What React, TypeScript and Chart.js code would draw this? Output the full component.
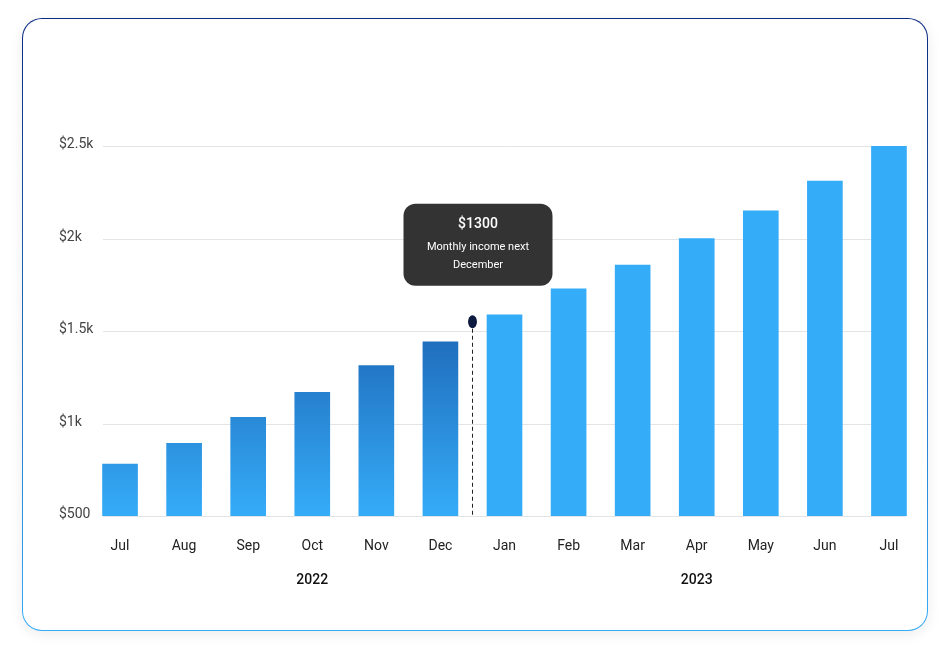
import { useEffect, useRef } from 'react';
import { Chart, registerables } from 'chart.js';

Chart.register(...registerables);

const months = ['Jul', 'Aug', 'Sep', 'Oct', 'Nov', 'Dec', 'Jan', 'Feb', 'Mar', 'Apr', 'May', 'Jun', 'Jul'];
const income = [780, 893, 1033, 1168, 1313, 1442, 1588, 1728, 1857, 2000, 2150, 2310, 2500];
const yTicks = [500, 1000, 1500, 2000, 2500];
const yTickLabels = ['$500', '$1k', '$1.5k', '$2k', '$2.5k'];
const years = [
  { label: '2022', at: 3 },
  { label: '2023', at: 9 },
];
const pastCount = 6;
const FONT = 'Roboto, "Noto Sans", sans-serif';

const overlay = {
  id: 'overlay',
  beforeDatasetsDraw(chart: any) {
    const { ctx, scales, chartArea } = chart;
    const x = scales.x;
    const y = scales.y;
    const first = x.getPixelForValue(0) - 17;
    const last = x.getPixelForValue(months.length - 1) + 17;
    ctx.save();
    ctx.strokeStyle = '#e2e4e8';
    ctx.lineWidth = 1;
    ctx.font = `14px ${FONT}`;
    ctx.fillStyle = '#444';
    ctx.textBaseline = 'middle';
    ctx.textAlign = 'left';
    yTicks.forEach((v, i) => {
      const py = Math.round(y.getPixelForValue(v)) + 0.5;
      ctx.beginPath();
      ctx.moveTo(first, py);
      ctx.lineTo(last, py);
      ctx.stroke();
      ctx.fillText(yTickLabels[i], 36, py - 2);
    });
    ctx.textAlign = 'center';
    ctx.fillStyle = '#222';
    months.forEach((m, i) => ctx.fillText(m, x.getPixelForValue(i), chartArea.bottom + 30));
    ctx.font = `500 14px ${FONT}`;
    ctx.fillStyle = '#111';
    years.forEach((yr) => ctx.fillText(yr.label, x.getPixelForValue(yr.at), chartArea.bottom + 64));
    ctx.restore();
  },
  afterDatasetsDraw(chart: any) {
    const { ctx, scales, chartArea } = chart;
    const x = scales.x;
    const y = scales.y;
    const dx = Math.round((x.getPixelForValue(pastCount - 1) + x.getPixelForValue(pastCount)) / 2) + 0.5;
    const topY = y.getPixelForValue(1550);
    ctx.save();
    ctx.strokeStyle = '#222';
    ctx.setLineDash([4, 3]);
    ctx.beginPath();
    ctx.moveTo(dx, topY);
    ctx.lineTo(dx, chartArea.bottom);
    ctx.stroke();
    ctx.setLineDash([]);
    ctx.fillStyle = '#0d1a3f';
    ctx.beginPath();
    ctx.ellipse(dx, topY, 4.5, 6.5, 0, 0, Math.PI * 2);
    ctx.fill();
    // tooltip box
    const bw = 149, bh = 82;
    const bx = dx - 69, by = topY - 118;
    ctx.fillStyle = '#333333';
    ctx.beginPath();
    ctx.roundRect(bx, by, bw, bh, 12);
    ctx.fill();
    ctx.fillStyle = '#fff';
    ctx.textAlign = 'center';
    ctx.textBaseline = 'middle';
    ctx.font = `500 14px ${FONT}`;
    ctx.fillText('$1300', bx + bw / 2, by + 21);
    ctx.font = `11px ${FONT}`;
    ctx.fillText('Monthly income next', bx + bw / 2, by + 43);
    ctx.fillText('December', bx + bw / 2, by + 61);
    ctx.restore();
  },
};

export default function App() {
  const ref = useRef<HTMLCanvasElement>(null);

  useEffect(() => {
    if (!ref.current) return;
    const chart = new Chart(ref.current, {
      type: 'bar',
      data: {
        labels: months,
        datasets: [
          {
            data: income,
            barThickness: 35,
            backgroundColor: (c: any) => {
              if (c.dataIndex >= pastCount) return '#35acf8';
              const { chartArea, ctx } = c.chart;
              if (!chartArea) return '#35acf8';
              const el = c.element;
              const top = el && Number.isFinite(el.y) ? el.y : chartArea.top;
              const g = ctx.createLinearGradient(0, top, 0, chartArea.bottom);
              g.addColorStop(0, '#082a7c');
              g.addColorStop(1, '#35acf8');
              return g;
            },
          },
        ],
      },
      options: {
        animation: false,
        responsive: true,
        maintainAspectRatio: false,
        layout: { padding: { left: 65, right: 6, top: 127, bottom: 114 } },
        plugins: { legend: { display: false }, tooltip: { enabled: false } },
        scales: {
          x: { display: false, offset: true },
          y: { display: false, min: 500, max: 2500 },
        },
      },
      plugins: [overlay],
    } as any);
    return () => chart.destroy();
  }, []);

  return (
    <div
      style={{
        position: 'absolute',
        left: 22,
        top: 18,
        width: 906,
        height: 613,
        boxSizing: 'border-box',
        border: '1px solid transparent',
        borderRadius: 20,
        background:
          'linear-gradient(#fff,#fff) padding-box, linear-gradient(#0b2a80, #35acf8) border-box',
        boxShadow: '0 3px 14px rgba(0,0,0,0.08)',
      }}
    >
      <div style={{ position: 'relative', width: 904, height: 611 }}>
        <canvas ref={ref} />
      </div>
    </div>
  );
}
